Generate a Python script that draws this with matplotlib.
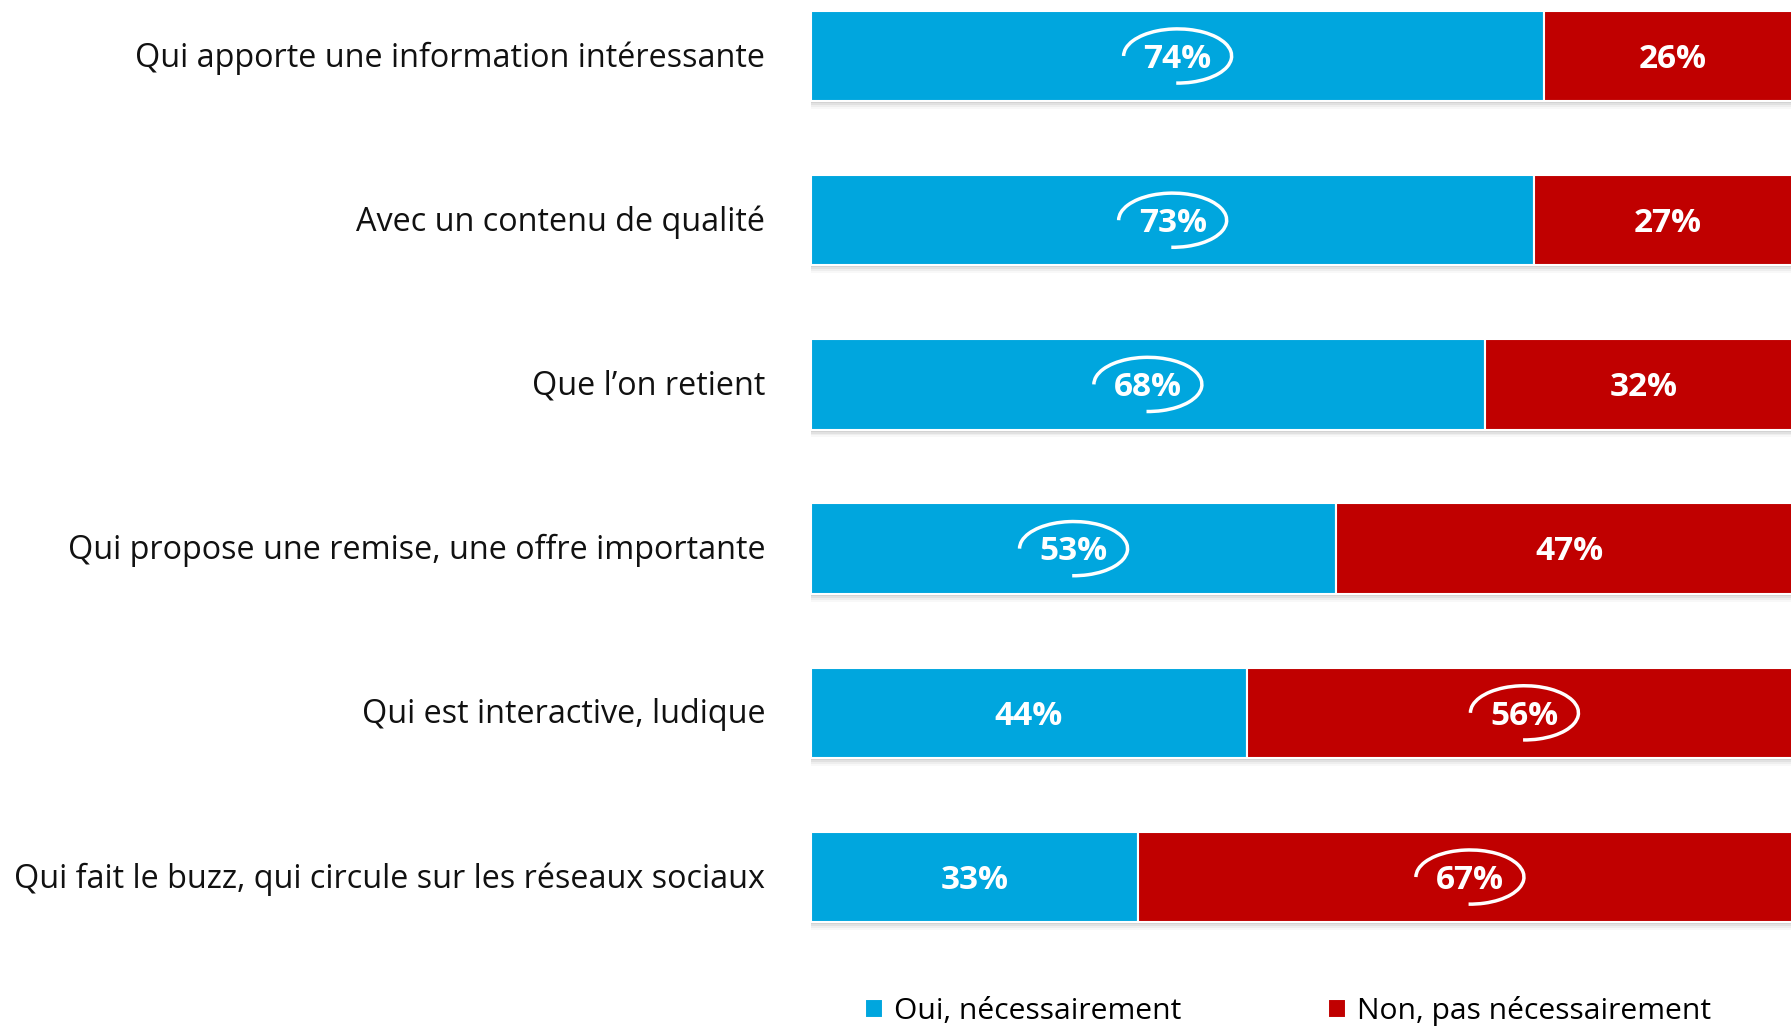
# Publicité appréciée : stacked horizontal bars, Oui / Non
import matplotlib.pyplot as plt
from matplotlib.patches import Arc

categories = [
    "Qui apporte une information intéressante",
    "Avec un contenu de qualité",
    "Que l\u2019on retient",
    "Qui propose une remise, une offre importante",
    "Qui est interactive, ludique",
    "Qui fait le buzz, qui circule sur les réseaux sociaux",
]
oui = [74, 73, 68, 53, 44, 33]
non = [26, 27, 32, 47, 56, 67]
series_names = ["Oui, nécessairement", "Non, pas nécessairement"]

blue = "#00A6DE"
red = "#C00000"

plt.rcParams["font.family"] = ["Open Sans", "DejaVu Sans"]

fig = plt.figure(figsize=(17.91, 10.26), dpi=100)
ax = fig.add_axes([0.4528, 0, 0.5472, 1])

y = list(range(len(categories)))
h = 0.55

# soft shadow under each bar
for k, a in enumerate([0.10, 0.08, 0.06, 0.04]):
    off = 0.012 * (k + 1)
    ax.barh([v + off for v in y], [100] * len(y), height=h, color="#555555",
            alpha=a, zorder=1, linewidth=0)

ax.barh(y, oui, height=h, color=blue, edgecolor="white", linewidth=1.5,
        zorder=2, label=series_names[0])
ax.barh(y, non, left=oui, height=h, color=red, edgecolor="white", linewidth=1.5,
        zorder=2, label=series_names[1])

for i in y:
    xo = oui[i] / 2
    xn = oui[i] + non[i] / 2
    ax.text(xo, i + 0.02, f"{oui[i]}%", color="white", fontsize=24,
            fontweight="bold", ha="center", va="center", zorder=4)
    ax.text(xn, i + 0.02, f"{non[i]}%", color="white", fontsize=24,
            fontweight="bold", ha="center", va="center", zorder=4)
    # circle around the majority answer
    xc = xo if oui[i] > non[i] else xn
    ax.add_patch(Arc((xc, i), 10.9, 0.33, theta1=180, theta2=130,
                     color="white", linewidth=2.5, zorder=5))

ax.set_xlim(0, 98.9)
ax.set_ylim(5.907, -0.341)
ax.axis("off")

for i, c in enumerate(categories):
    ax.text(-4.6, i + 0.012, c, ha="right", va="center", fontsize=23.3,
            color="#111111")

fig.legend(loc="center left", bbox_to_anchor=(0.468, 0.015), ncol=2,
           frameon=False, fontsize=21.6, handlelength=0.6, handleheight=0.6,
           handletextpad=0.35, columnspacing=4.9)

fig.savefig("out.png", dpi=100)
